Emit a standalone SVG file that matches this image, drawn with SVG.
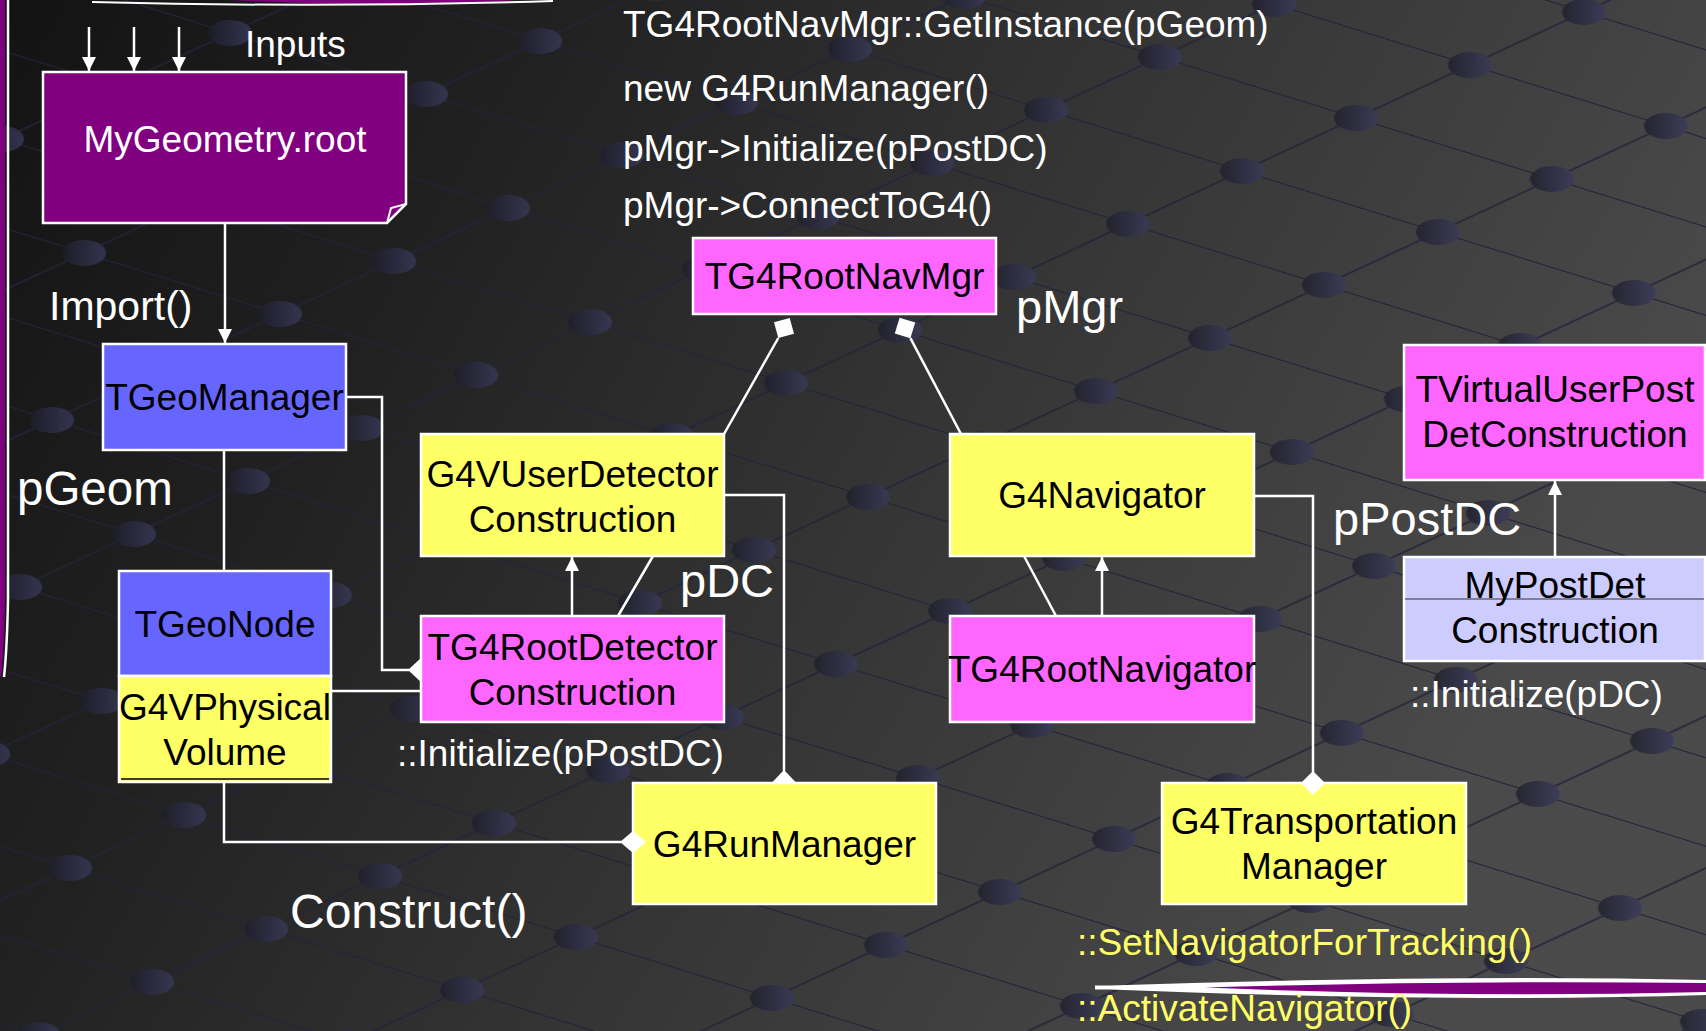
<svg xmlns="http://www.w3.org/2000/svg" width="1706" height="1031" viewBox="0 0 1706 1031">
<defs>
<style>
text{font-family:"Liberation Sans",Arial,sans-serif}
.b37{font-size:37px;fill:#000;text-anchor:middle}
.w37{font-size:37px;fill:#fff}
.w46{font-size:47px;fill:#fff}
.y37{font-size:37px;fill:#FFFF66}
.box{stroke:#fff;stroke-width:2.5}
.mag{fill:#FF66FF}
.yel{fill:#FFFF66}
.blu{fill:#6666FF}
.lav{fill:#CCCCFF}
.con{fill:none;stroke:#fff;stroke-width:2.5}
.dia{fill:#fff}
</style>
<linearGradient id="bg" x1="0" y1="0" x2="1" y2="0.35">
<stop offset="0" stop-color="#131313"/>
<stop offset="0.3" stop-color="#212121"/>
<stop offset="0.6" stop-color="#343434"/>
<stop offset="1" stop-color="#4a4a4a"/>
</linearGradient>
<linearGradient id="dotg" x1="0" y1="0" x2="1" y2="0">
<stop offset="0" stop-color="#1d1d2b"/>
<stop offset="1" stop-color="#3a3a5c"/>
</linearGradient>
<pattern id="grid" width="100" height="100" patternUnits="userSpaceOnUse" patternTransform="matrix(1.96 0.61 1.14 -0.53 786 383)">
<path d="M0,0 H100 M0,100 H100 M0,0 V100 M100,0 V100" fill="none" stroke="#23233a" stroke-width="1.4"/>
<g fill="url(#dotg)">
<ellipse rx="22" ry="13" transform="matrix(0.3056 0.3517 0.6574 -1.1302 0 0)"/>
<ellipse rx="22" ry="13" transform="translate(100 0) matrix(0.3056 0.3517 0.6574 -1.1302 0 0)"/>
<ellipse rx="22" ry="13" transform="translate(0 100) matrix(0.3056 0.3517 0.6574 -1.1302 0 0)"/>
<ellipse rx="22" ry="13" transform="translate(100 100) matrix(0.3056 0.3517 0.6574 -1.1302 0 0)"/>
</g>
</pattern>
<marker id="arr" viewBox="0 0 14 14" refX="14" refY="7" markerWidth="14" markerHeight="14" markerUnits="userSpaceOnUse" orient="auto">
<path d="M0,0 L14,7 L0,14 Z" fill="#fff"/>
</marker>
</defs>

<g id="background">
<rect x="0" y="0" width="1706" height="1031" fill="url(#bg)"/>
<rect x="0" y="0" width="1706" height="1031" fill="url(#grid)" opacity="0.8"/>
<path d="M0,0 H5 L5,600 Q4,650 1,677 H0 Z" fill="#800080"/>
<path d="M8,0 V600 Q7,650 4,677" fill="none" stroke="#fff" stroke-width="2.5"/>
<path d="M230,0 Q370,8 520,0 Z" fill="#800080"/>
<path d="M92,2 Q322,8 553,1" fill="none" stroke="#fff" stroke-width="2"/>
<path d="M1095,985.5 L1110,985.5 Q1460,974 1706,980 L1706,995 Q1460,1003 1110,989.5 L1095,989.5 Z" fill="#fff"/>
<path d="M1205,987.5 Q1460,980 1706,983 L1706,992 Q1460,998 1205,987.5 Z" fill="#800080"/>
</g>

<g id="labels">
<text class="w37" x="245" y="57">Inputs</text>
<text class="w37" x="49" y="320" style="font-size:41px">Import()</text>
<text class="w46" x="17" y="505" style="font-size:47.5px">pGeom</text>
<text class="w37" x="623" y="37">TG4RootNavMgr::GetInstance(pGeom)</text>
<text class="w37" x="623" y="101">new G4RunManager()</text>
<text class="w37" x="623" y="161">pMgr-&gt;Initialize(pPostDC)</text>
<text class="w37" x="623" y="218">pMgr-&gt;ConnectToG4()</text>
<text class="w46" x="1016" y="323">pMgr</text>
<text class="w46" x="680" y="597">pDC</text>
<text class="w46" x="1333" y="535">pPostDC</text>
<text class="w37" x="397" y="766">::Initialize(pPostDC)</text>
<text class="w37" x="1410" y="707">::Initialize(pDC)</text>
<text class="w46" x="290" y="928" style="font-size:48px">Construct()</text>
<text class="y37" x="1077" y="955">::SetNavigatorForTracking()</text>
<text class="y37" x="1077" y="1021">::ActivateNavigator()</text>
</g>

<g id="nodes">
<g id="mygeometry">
<polygon points="43,72 406,72 406,204 387,223 43,223" fill="#800080" class="box"/>
<polyline points="406,204 391,208 387,223" fill="none" stroke="#fff" stroke-width="2"/>
<text class="b37" x="225" y="152" style="fill:#fff">MyGeometry.root</text>
</g>
<g id="tgeomanager">
<rect x="103" y="344" width="243" height="106" class="box blu"/>
<text class="b37" x="224.5" y="410">TGeoManager</text>
</g>
<g id="tgeonode">
<rect x="119" y="571" width="212" height="105" class="box blu"/>
<rect x="119" y="676" width="212" height="106" class="box yel"/>
<line x1="121" y1="779" x2="329" y2="779" stroke="#000" stroke-width="1.5"/>
<text class="b37" x="225" y="637">TGeoNode</text>
<text class="b37" x="225" y="720">G4VPhysical</text>
<text class="b37" x="225" y="765">Volume</text>
</g>
<g id="g4vuserdetectorconstruction">
<rect x="421" y="434" width="303" height="122" class="box yel"/>
<text class="b37" x="572.5" y="487">G4VUserDetector</text>
<text class="b37" x="572.5" y="532">Construction</text>
</g>
<g id="tg4rootdetectorconstruction">
<rect x="421" y="616" width="303" height="106" class="box mag"/>
<text class="b37" x="572.5" y="660">TG4RootDetector</text>
<text class="b37" x="572.5" y="705">Construction</text>
</g>
<g id="tg4rootnavmgr">
<rect x="693" y="238" width="303" height="76" class="box mag"/>
<text class="b37" x="844.5" y="289">TG4RootNavMgr</text>
</g>
<g id="g4navigator">
<rect x="950" y="434" width="304" height="122" class="box yel"/>
<text class="b37" x="1102" y="508">G4Navigator</text>
</g>
<g id="tg4rootnavigator">
<rect x="950" y="616" width="304" height="106" class="box mag"/>
<text class="b37" x="1102" y="682">TG4RootNavigator</text>
</g>
<g id="g4runmanager">
<rect x="633" y="783" width="303" height="121" class="box yel"/>
<text class="b37" x="784.5" y="857">G4RunManager</text>
</g>
<g id="g4transportationmanager">
<rect x="1162" y="783" width="304" height="121" class="box yel"/>
<text class="b37" x="1314" y="834">G4Transportation</text>
<text class="b37" x="1314" y="879">Manager</text>
</g>
<g id="tvirtualuserpostdetconstruction">
<rect x="1404" y="345" width="301" height="135" class="box mag"/>
<text class="b37" x="1555" y="402">TVirtualUserPost</text>
<text class="b37" x="1555" y="447">DetConstruction</text>
</g>
<g id="mypostdetconstruction">
<rect x="1404" y="557" width="301" height="104" class="box lav"/>
<line x1="1405" y1="599" x2="1704" y2="599" stroke="#333" stroke-width="1.2"/>
<text class="b37" x="1555" y="598">MyPostDet</text>
<text class="b37" x="1555" y="643">Construction</text>
</g>
</g>

<g id="connectors">
<path class="con" d="M89,27 V71" marker-end="url(#arr)"/>
<path class="con" d="M134,27 V71" marker-end="url(#arr)"/>
<path class="con" d="M179,27 V71" marker-end="url(#arr)"/>
<path class="con" d="M225,224 V343" marker-end="url(#arr)"/>
<path class="con" d="M224,450 V571"/>
<path class="con" d="M346,397 H382 V670 H409"/>
<polygon class="dia" points="408,670 422,657 422,683"/>
<path class="con" d="M331,691 H421"/>
<path class="con" d="M572,616 V557" marker-end="url(#arr)"/>
<path class="con" d="M618,616 L653,556"/>
<path class="con" d="M724,495 H784 V771"/>
<polygon class="dia" points="784,770 771.5,783 796.5,783"/>
<path class="con" d="M224,782 V842 H621"/>
<polygon class="dia" points="620,842 633,831 646,842 633,853"/>
<path class="con" d="M724,434 L778.3,338"/>
<polygon class="dia" points="778.3,338 794,333.7 789.7,318 774,322.3"/>
<path class="con" d="M961,434 L910.4,338.2"/>
<polygon class="dia" points="910.4,338.2 915.2,322.6 899.6,317.8 894.8,333.4"/>
<path class="con" d="M1102,616 V557" marker-end="url(#arr)"/>
<path class="con" d="M1056,616 L1024,556"/>
<path class="con" d="M1254,496 H1313 V772"/>
<polygon class="dia" points="1313,771 1325,783 1313,795 1301,783"/>
<path class="con" d="M1555,557 V481" marker-end="url(#arr)"/>
</g>
</svg>
